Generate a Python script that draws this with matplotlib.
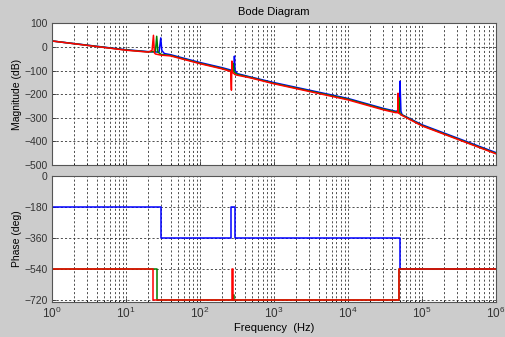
import matplotlib
matplotlib.use('Agg')
import matplotlib.pyplot as plt
from matplotlib.ticker import LogLocator, FixedLocator, NullFormatter

plt.rcParams['font.family'] = ['Liberation Sans', 'DejaVu Sans']
plt.rcParams['mathtext.fontset'] = 'custom'
plt.rcParams['mathtext.rm'] = 'Liberation Sans'
plt.rcParams['mathtext.it'] = 'Liberation Sans'

# magnitude (dB)
blue_f = [1, 10, 20, 28, 29.5, 30.5, 33, 40, 100, 200, 262, 288, 292, 298, 320, 466,
          1000, 1e4, 3e4, 4.4e4, 5.0e4, 5.05e4, 5.2e4, 5.4e4, 1e5, 1e6]
blue_m = [25, -12, -20, -22, 38, -15, -28, -33, -66, -88, -98, -100, -39, -100, -113, -126,
          -151, -218, -260, -272, -270, -145, -272, -287, -329, -447]

green_f = [1, 10, 20, 25, 26, 27, 30, 40, 100, 200, 262, 278, 282, 290, 320, 466,
           1000, 1e4, 3e4, 4.4e4, 4.85e4, 4.9e4, 5.0e4, 5.4e4, 1e5, 1e6]
green_m = [25, -13, -21, -20, 45, -22, -32, -36, -69, -91, -102, -105, -70, -108, -116, -128,
           -154, -221, -263, -275, -276, -215, -278, -288, -332, -450]

red_f = [1, 10, 20, 22.5, 23.5, 24.2, 25, 30, 40, 100, 200, 260, 266, 270, 276, 300, 466,
         1000, 1e4, 3e4, 4.4e4, 4.7e4, 4.75e4, 4.8e4, 5.4e4, 1e5, 1e6]
red_m = [25, -14, -22, -15, 49, -25, -30, -35, -38, -71, -93, -104, -183, -60, -108, -118, -130,
         -156, -224, -266, -278, -278, -196, -279, -290, -334, -452]

# phase (deg) breakpoints
blue_pf = [1, 30, 265, 295, 51000, 1e6]
blue_p = [-180, -360, -180, -360, -540, -540]
green_pf = [1, 26, 280, 290, 49000, 1e6]
green_p = [-540, -720, -690, -720, -540, -540]
red_pf = [1, 23.3, 268, 283, 49000, 1e6]
red_p = [-540, -720, -540, -720, -540, -540]

mag_ticks = [100, 0, -100, -200, -300, -400, -500]
phase_ticks = [0, -180, -360, -540, -720]
x_ticks = [1, 10, 100, 1e3, 1e4, 1e5, 1e6]
x_labels = ['$10^{0}$', '$10^{1}$', '$10^{2}$', '$10^{3}$', '$10^{4}$', '$10^{5}$', '$10^{6}$']

fig = plt.figure(figsize=(5.05, 3.37), dpi=100)
fig.patch.set_facecolor('#cccccc')

ax1 = fig.add_axes([0.103, 0.510, 0.879, 0.421])
ax2 = fig.add_axes([0.103, 0.104, 0.879, 0.374])

colors = ['#0000ff', '#008000', '#ff0000']
for f, m, c in zip([blue_f, green_f, red_f], [blue_m, green_m, red_m], colors):
    ax1.plot(f, m, color=c, lw=1.1)
for f, p, c in zip([blue_pf, green_pf, red_pf], [blue_p, green_p, red_p], colors):
    ax2.plot(f, p, color=c, lw=1.1, drawstyle='steps-post')

for ax in (ax1, ax2):
    ax.set_facecolor('white')
    ax.set_xscale('log')
    ax.set_xlim(1, 1e6)
    ax.xaxis.set_major_locator(FixedLocator(x_ticks))
    ax.xaxis.set_minor_locator(LogLocator(base=10, subs=range(2, 10), numticks=20))
    ax.xaxis.set_minor_formatter(NullFormatter())
    ax.grid(True, which='major', color='#333333', ls=(0, (2.5, 2.5)), lw=0.6)
    ax.grid(True, which='minor', axis='x', color='#333333', ls=(0, (2.5, 2.5)), lw=0.6)
    ax.tick_params(direction='in', length=3, width=0.6, labelsize=7.5, colors='#333333', pad=3)
    ax.tick_params(which='minor', direction='in', length=1.5, width=0.5)
    for s in ax.spines.values():
        s.set_color('#555555')
        s.set_linewidth(0.8)

ax1.set_ylim(-500, 100)
ax1.set_yticks(mag_ticks)
ax1.set_xticklabels([])
ax1.set_ylabel('Magnitude (dB)', fontsize=7.5, labelpad=2)

ax2.set_ylim(-730, 0)
ax2.set_yticks(phase_ticks)
ax2.set_xticklabels(x_labels)
ax2.tick_params(axis='x', labelsize=8.5, pad=3)
ax2.set_ylabel('Phase (deg)', fontsize=7.5, labelpad=2)
ax2.set_xlabel('Frequency  (Hz)', fontsize=8, labelpad=1)

fig.text(0.542, 0.965, 'Bode Diagram', ha='center', va='center', fontsize=8)

fig.savefig('out.png', dpi=100, facecolor=fig.get_facecolor())
